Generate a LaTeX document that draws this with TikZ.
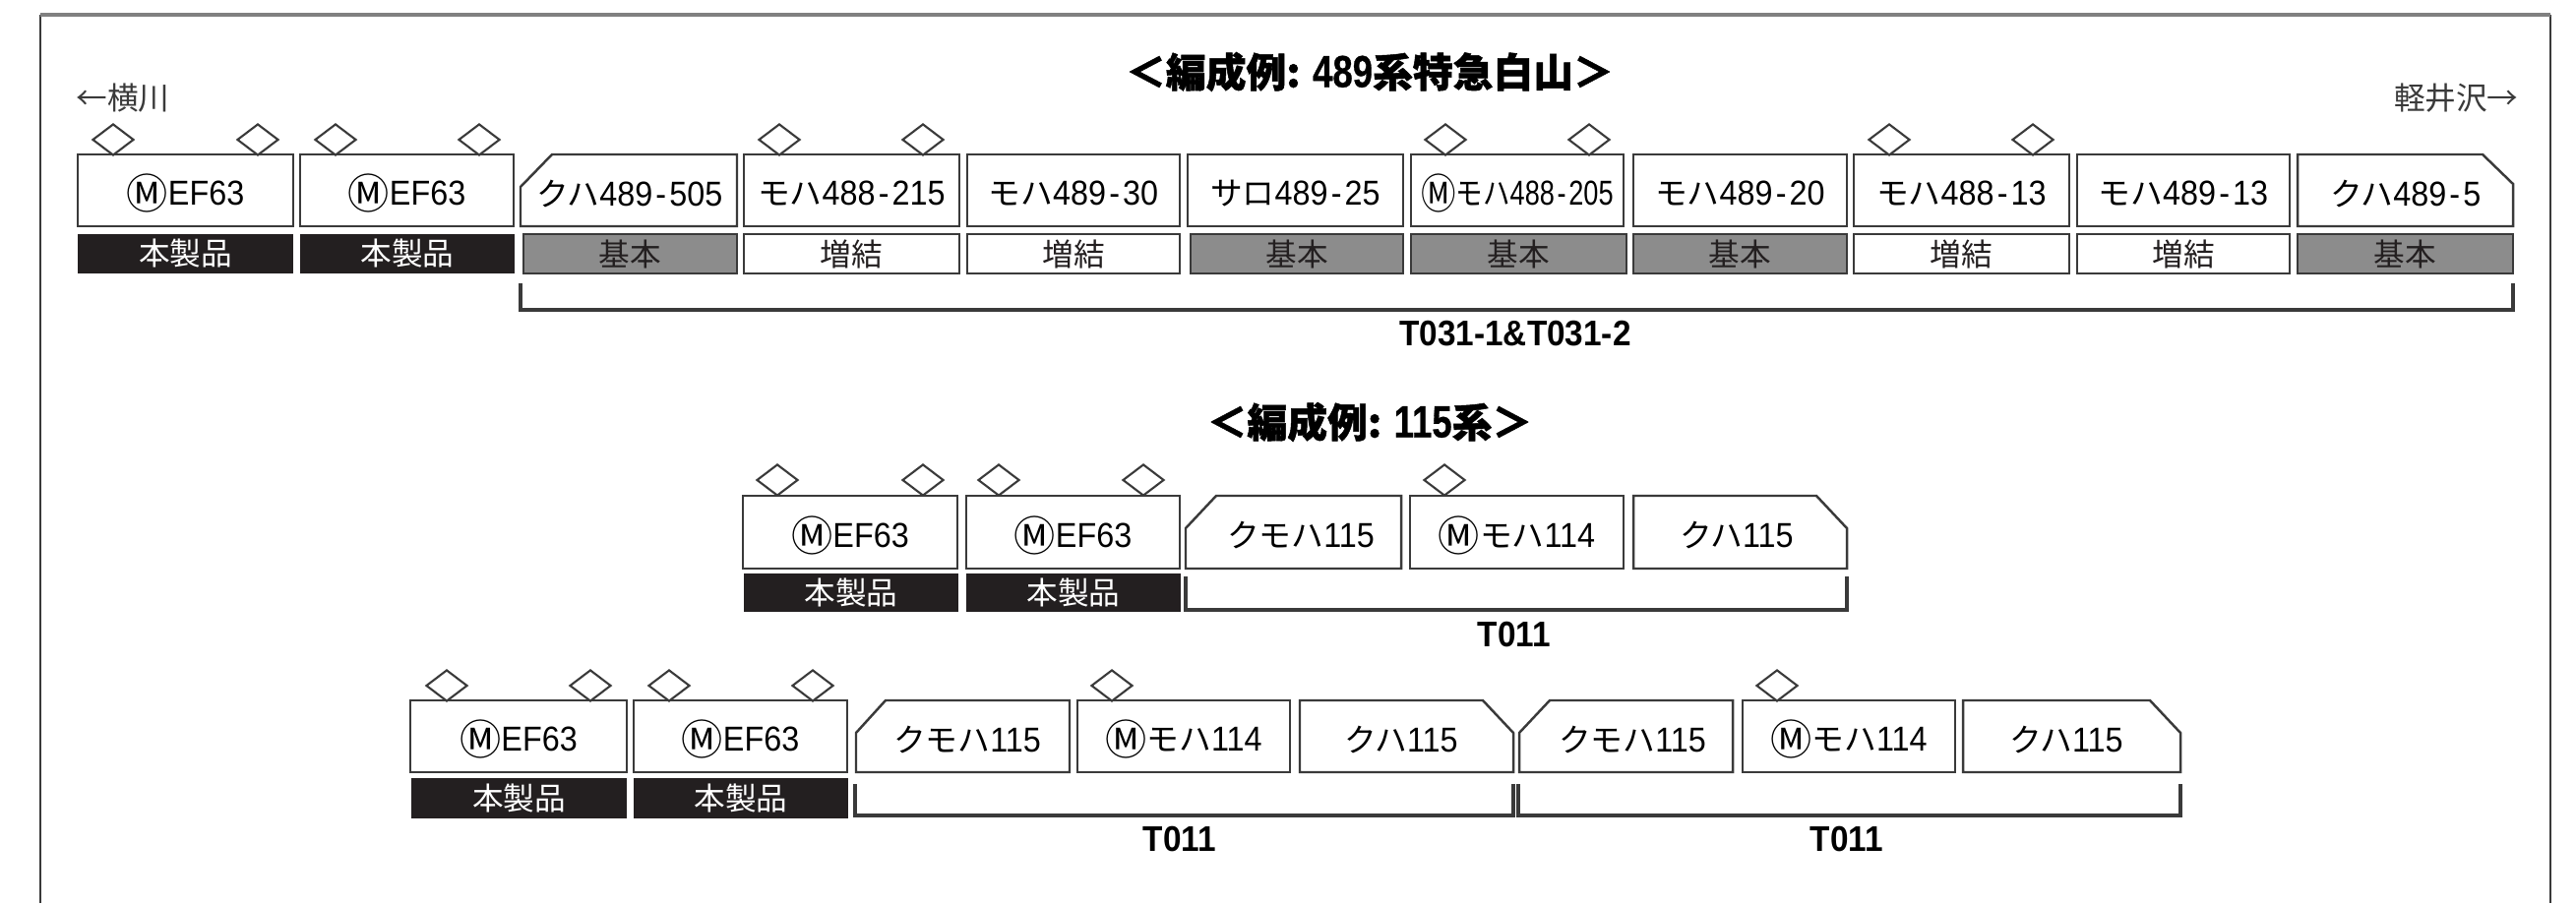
\documentclass[tikz,border=0pt]{standalone}
\usepackage{fontspec}
\setmainfont[FakeStretch=.92]{Liberation Sans}
\newfontfamily\jp[BoldFeatures={FakeBold=1.2}]{Noto Sans CJK JP}
\newfontfamily\titlenum[FakeStretch=.8,BoldFeatures={FakeBold=.6}]{Liberation Sans}
\usetikzlibrary{shapes.geometric}
\definecolor{ink}{HTML}{3A3A3A}
\definecolor{blk}{HTML}{231F20}
\definecolor{gry}{HTML}{8C8C8C}
\newcommand{\M}{\raisebox{-1.1pt}{\jp\fontsize{12}{12}\selectfont Ⓜ}}
\newcommand{\K}[1]{{\jp\fontsize{9.3}{10}\selectfont #1}}
\newcommand{\Hy}{\kern.9pt-\kern.9pt}
\newcommand{\Num}[1]{{\titlenum\fontsize{13}{15}\selectfont #1}}
\tikzset{
	car/.style={draw=ink,line width=.7pt,font=\fontsize{10}{12}\selectfont,every node/.style={yshift=-.03cm}},
	pan/.style={draw=ink,line width=.6pt,diamond,inner sep=0pt,minimum width=.42cm,minimum height=.32cm},
	own/.style={draw=blk,fill=blk,text=white,line width=.3pt,font=\jp\fontsize{9}{11}\selectfont},
	base/.style={draw=ink,fill=gry,text=blk,line width=.7pt,font=\jp\fontsize{9}{11}\selectfont},
	extra/.style={draw=ink,fill=white,text=blk,line width=.7pt,font=\jp\fontsize{9}{11}\selectfont},
	bracket/.style={draw=ink,line width=.95pt},
	setname/.style={font=\bfseries\fontsize{10.3}{12}\selectfont},
	heading/.style={font=\jp\bfseries\fontsize{11.6}{13}\selectfont},
	place/.style={font=\jp\fontsize{9}{11}\selectfont,text=ink}
}
\begin{document}
\begin{tikzpicture}[x=.01cm,y=.01cm]
	\useasboundingbox (0,0) rectangle (2618,-918);
	% frame
	\draw[color=ink,line width=.6pt] (41,-918) -- (41,-15) (2592,-15) -- (2592,-918);
	\draw[color=gray,line width=1.1pt] (41,-15) -- (2592,-15);

	% top train
	\node[heading] (title1) at (1392,-73) {＜編成例: \Num{489}系特急白山＞};
	\node[place,right] (from1) at (65,-100) {←横川};
	\node[place,left] (to1) at (2572,-100) {軽井沢→};
	\draw (115,-142) node[pan](p1){} (262,-142) node[pan](p2){} (341,-142) node[pan](p3){} (487,-142) node[pan](p4){} (792,-142) node[pan](p5){} (938,-142) node[pan](p6){} (1469,-142) node[pan](p7){} (1615,-142) node[pan](p8){} (1920,-142) node[pan](p9){} (2066,-142) node[pan](p10){};
	\draw[car] (79,-157) rectangle (298,-230) node[midway](a1){\M EF63};
	\draw[car] (305,-157) rectangle (522,-230) node[midway](a2){\M EF63};
	\draw[car] (529,-190) -- (561,-157) -- (749,-157) -- (749,-230) -- (529,-230) -- cycle;
	\node[car,draw=none] (a3) at (640,-197) {\K{クハ}489\Hy505};
	\draw[car] (756,-157) rectangle (975,-230) node[midway](a4){\K{モハ}488\Hy215};
	\draw[car] (983,-157) rectangle (1199,-230) node[midway](a5){\K{モハ}489\Hy30};
	\draw[car] (1207,-157) rectangle (1426,-230) node[midway](a6){\K{サロ}489\Hy25};
	\draw[car] (1434,-157) rectangle (1650,-230) node[midway](a7){\scalebox{.84}[1]{\M\K{モハ}488\Hy205}};
	\draw[car] (1660,-157) rectangle (1877,-230) node[midway](a8){\K{モハ}489\Hy20};
	\draw[car] (1884,-157) rectangle (2103,-230) node[midway](a9){\K{モハ}488\Hy13};
	\draw[car] (2111,-157) rectangle (2327,-230) node[midway](a10){\K{モハ}489\Hy13};
	\draw[car] (2335,-157) -- (2523,-157) -- (2554,-187) -- (2554,-230) -- (2335,-230) -- cycle;
	\node[car,draw=none] (a11) at (2445,-197) {\K{クハ}489\Hy5};
	\draw[own] (80,-239) rectangle (297,-277) node[midway](b1){本製品};
	\draw[own] (306,-239) rectangle (522,-277) node[midway](b2){本製品};
	\draw[base] (532,-238) rectangle (749,-278) node[midway](b3){基本};
	\draw[extra] (756,-238) rectangle (975,-278) node[midway](b4){増結};
	\draw[extra] (983,-238) rectangle (1199,-278) node[midway](b5){増結};
	\draw[base] (1210,-238) rectangle (1426,-278) node[midway](b6){基本};
	\draw[base] (1434,-238) rectangle (1653,-278) node[midway](b7){基本};
	\draw[base] (1660,-238) rectangle (1877,-278) node[midway](b8){基本};
	\draw[extra] (1884,-238) rectangle (2103,-278) node[midway](b9){増結};
	\draw[extra] (2111,-238) rectangle (2327,-278) node[midway](b10){増結};
	\draw[base] (2335,-238) rectangle (2554,-278) node[midway](b11){基本};
	\draw[bracket] (529,-288) |- (2554,-315) -- (2554,-288);
	\node[setname] (set1) at (1540,-339) {T031-1\&T031-2};

	% middle train
	\node[heading] (title2) at (1392,-429) {＜編成例: \Num{115}系＞};
	\draw (790,-488) node[pan](q1){} (938,-488) node[pan](q2){} (1015,-488) node[pan](q3){} (1162,-488) node[pan](q4){} (1468,-488) node[pan](q5){};
	\draw[car] (755,-504) rectangle (973,-578) node[midway](c1){\M EF63};
	\draw[car] (982,-504) rectangle (1199,-578) node[midway](c2){\M EF63};
	\draw[car] (1205,-537) -- (1236,-504) -- (1424,-504) -- (1424,-578) -- (1205,-578) -- cycle;
	\node[car,draw=none] (c3) at (1322,-544) {\K{クモハ}115};
	\draw[car] (1433,-504) rectangle (1650,-578) node[midway](c4){\M\K{モハ}114};
	\draw[car] (1660,-504) -- (1846,-504) -- (1877,-537) -- (1877,-578) -- (1660,-578) -- cycle;
	\node[car,draw=none] (c5) at (1765,-544) {\K{クハ}115};
	\draw[own] (757,-584) rectangle (973,-621) node[midway](d1){本製品};
	\draw[own] (983,-584) rectangle (1199,-621) node[midway](d2){本製品};
	\draw[bracket] (1205,-586) |- (1877,-620) -- (1877,-586);
	\node[setname] (set2) at (1539,-645) {T011};

	% bottom trains
	\draw (454,-697) node[pan](r1){} (600,-697) node[pan](r2){} (680,-697) node[pan](r3){} (826,-697) node[pan](r4){} (1130,-697) node[pan](r5){} (1806,-697) node[pan](r6){};
	\draw[car] (417,-712) rectangle (637,-785) node[midway](e1){\M EF63};
	\draw[car] (644,-712) rectangle (861,-785) node[midway](e2){\M EF63};
	\draw[car] (870,-745) -- (900,-712) -- (1087,-712) -- (1087,-785) -- (870,-785) -- cycle;
	\node[car,draw=none] (e3) at (983,-752) {\K{クモハ}115};
	\draw[car] (1095,-712) rectangle (1311,-785) node[midway](e4){\M\K{モハ}114};
	\draw[car] (1321,-712) -- (1507,-712) -- (1538,-745) -- (1538,-785) -- (1321,-785) -- cycle;
	\node[car,draw=none] (e5) at (1424,-752) {\K{クハ}115};
	\draw[car] (1544,-745) -- (1575,-712) -- (1761,-712) -- (1761,-785) -- (1544,-785) -- cycle;
	\node[car,draw=none] (e6) at (1659,-752) {\K{クモハ}115};
	\draw[car] (1771,-712) rectangle (1987,-785) node[midway](e7){\M\K{モハ}114};
	\draw[car] (1995,-712) -- (2185,-712) -- (2216,-745) -- (2216,-785) -- (1995,-785) -- cycle;
	\node[car,draw=none] (e8) at (2100,-752) {\K{クハ}115};
	\draw[own] (419,-792) rectangle (636,-831) node[midway](f1){本製品};
	\draw[own] (645,-792) rectangle (861,-831) node[midway](f2){本製品};
	\draw[bracket] (869,-797) |- (1538,-829) -- (1538,-797);
	\draw[bracket] (1543,-797) |- (2216,-829) -- (2216,-797);
	\node[setname] (set3) at (1199,-853) {T011};
	\node[setname] (set4) at (1877,-853) {T011};
\end{tikzpicture}
\end{document}
